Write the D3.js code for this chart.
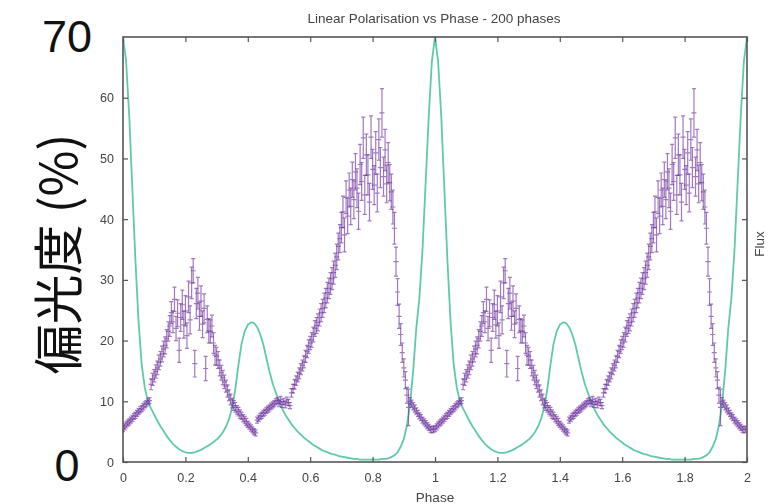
<!DOCTYPE html>
<html>
<head>
<meta charset="utf-8">
<script src="https://cdn.jsdelivr.net/npm/d3@7"></script>
<style>
  body { margin: 0; background: #fff; }
  svg { display: block; }
</style>
</head>
<body>
<svg id="chart" width="778" height="504"></svg>
<script>
// ---- data -------------------------------------------------------------
const chartTitle = "Linear Polarisation vs Phase - 200 phases";
const xAxisTitle = "Phase";
const yAxisTitle = "偏光度 (%)";
const y2AxisTitle = "Flux";

const yTicks = [0, 10, 20, 30, 40, 50, 60];
const yTickLabels = ["0", "10", "20", "30", "40", "50", "60"];
const xTicks = [0, 0.2, 0.4, 0.6, 0.8, 1, 1.2, 1.4, 1.6, 1.8, 2];
const xTickLabels = ["0", "0.2", "0.4", "0.6", "0.8", "1", "1.2", "1.4", "1.6", "1.8", "2"];
const yEndLabels = ["0", "70"];

// phase-folded cycle, shown twice (phase 0-1 and 1-2)
const cycles = [0, 1];

// linear polarisation (%), 200 phase bins per cycle
const polStep = 0.005;
const polValues = [
  5.5, 5.8, 6.1, 6.4, 6.6, 6.9, 7.2, 7.5, 7.7, 8.0, 8.3, 8.6, 8.8, 9.1, 9.4, 9.6, 9.9, 10.1,
  12.8, 13.6, 14.2, 14.9, 15.5, 16.4, 17.0, 17.8, 18.6, 19.2, 20.3, 21.5, 22.4, 24.6, 23.1, 26.8,
  22.0, 24.5, 18.4, 23.8, 25.9, 22.6, 24.9, 20.8, 27.2, 23.4, 29.5, 31.5, 16.2, 26.1, 27.8, 24.0,
  26.5, 22.7, 25.3, 15.4, 23.5, 21.6,
  21.5, 22.4, 19.6, 17.6, 17.4, 16.8, 15.5, 14.7, 13.9, 13.2, 12.5, 11.7, 11.0, 10.3, 9.7, 9.3,
  9.0, 8.6, 8.3, 7.9, 7.6, 7.2, 6.9, 6.6, 6.2, 5.9, 5.6, 5.3, 5.0, 4.8,
  6.9, 7.2, 7.5, 7.7, 8.0, 8.2, 8.5, 8.7, 8.9, 9.2, 9.4, 9.6, 9.9, 10.1, 9.6, 10.3, 9.5, 10.0,
  9.4, 10.2, 9.8, 9.3,
  11.4, 12.1, 12.8, 13.4, 14.0, 14.6, 15.3, 15.9, 16.5, 17.4, 18.2, 19.0, 19.6, 20.1, 21.0, 22.0,
  22.5, 23.0, 23.8, 24.6, 25.3, 26.2, 27.0, 27.9, 28.6, 29.4, 30.2, 31.2, 32.4, 33.8, 35.5, 36.8,
  38.6, 41.2, 37.4, 43.6, 40.5, 44.8, 42.1, 46.5, 43.2, 47.8, 45.1, 41.3, 49.0, 46.2, 53.4, 44.0,
  50.6, 47.3, 42.8, 53.5, 48.2, 45.6, 50.9, 44.3, 53.1, 48.5, 57.5, 47.0, 51.4, 45.8, 49.3, 46.0,
  44.5,
  42.0, 38.5, 33.0, 28.0, 24.0, 21.0, 18.0, 15.5, 13.5, 11.0, 9.0, 10.0, 9.6, 9.2, 8.8, 8.4,
  8.0, 7.6, 7.3, 6.9, 6.6, 6.3, 6.0, 5.7, 5.4, 5.3, 5.4
];
const polErrors = [
  0.5, 0.5, 0.5, 0.5, 0.5, 0.5, 0.5, 0.5, 0.5, 0.5, 0.5, 0.5, 0.5, 0.5, 0.5, 0.5, 0.5, 0.5,
  0.9, 1.0, 1.0, 1.1, 1.1, 1.2, 1.2, 1.3, 1.3, 1.4, 1.5, 1.6, 1.7, 1.8, 1.8, 2.0,
  2.0, 2.2, 2.0, 2.3, 2.4, 2.2, 2.5, 2.1, 2.6, 2.3, 2.6, 2.0, 2.2, 2.5, 2.6, 2.3,
  2.5, 2.2, 2.4, 2.0, 2.2, 2.0,
  1.9, 1.8, 1.7, 1.6, 1.5, 1.4, 1.3, 1.2, 1.2, 1.1, 1.0, 1.0, 0.9, 0.9, 0.8, 0.8,
  0.8, 0.7, 0.7, 0.7, 0.6, 0.6, 0.6, 0.6, 0.5, 0.5, 0.5, 0.5, 0.5, 0.5,
  0.5, 0.5, 0.5, 0.5, 0.5, 0.5, 0.5, 0.5, 0.5, 0.5, 0.5, 0.5, 0.5, 0.5, 0.5, 0.5, 0.5, 0.5,
  0.5, 0.5, 0.5, 0.5,
  0.7, 0.7, 0.8, 0.8, 0.8, 0.9, 0.9, 0.9, 1.0, 1.0, 1.0, 1.1, 1.1, 1.2, 1.2, 1.3,
  1.3, 1.4, 1.4, 1.5, 1.5, 1.6, 1.6, 1.7, 1.7, 1.8, 1.8, 1.9, 2.0, 2.1, 2.2, 2.3,
  2.5, 2.6, 2.8, 2.7, 2.9, 2.8, 3.0, 2.9, 3.1, 3.0, 3.2, 3.0, 3.3, 3.1, 3.4, 3.2,
  3.4, 3.3, 3.1, 3.5, 3.3, 3.2, 3.5, 3.1, 3.4, 3.3, 4.0, 3.2, 3.4, 3.1, 3.3, 3.0,
  2.9,
  2.8, 2.6, 2.4, 2.2, 2.0, 1.8, 1.6, 1.5, 1.4, 1.3, 3.0, 0.6, 0.6, 0.6, 0.6, 0.5,
  0.5, 0.5, 0.5, 0.5, 0.5, 0.5, 0.5, 0.5, 0.5, 0.5, 0.5
];

// model flux, drawn on the same vertical scale, 0.01 phase steps (0 .. 1)
const fluxStep = 0.01;
const fluxValues = [
  70, 66, 57, 45, 33, 23, 16, 12.2, 10.0, 8.8,
  7.8, 6.8, 5.9, 5.1, 4.3, 3.6, 3.0, 2.5, 2.1, 1.8,
  1.6, 1.5, 1.5, 1.6, 1.8, 2.0, 2.3, 2.6, 2.9, 3.3,
  3.7, 4.2, 4.9, 5.8, 7.1, 9.0, 12.0, 16.0, 19.5, 21.5,
  22.6, 23.0, 22.9, 22.2, 21.0, 19.3, 17.0, 14.8, 12.9, 11.4,
  10.0, 8.8, 7.8, 7.0, 6.2, 5.6, 5.0, 4.5, 4.0, 3.6,
  3.2, 2.8, 2.5, 2.2, 1.9, 1.7, 1.5, 1.3, 1.2, 1.0,
  0.9, 0.8, 0.7, 0.6, 0.5, 0.5, 0.4, 0.4, 0.4, 0.4,
  0.4, 0.4, 0.4, 0.5, 0.5, 0.6, 0.8, 1.1, 1.6, 2.5,
  3.8, 6.0, 9.5, 15, 22, 27, 35, 46, 57, 66,
  70
];

// ---- layout -----------------------------------------------------------
const svg = d3.select("#chart");
const x = d3.scaleLinear().domain([0, 2]).range([123, 747]);
const y = d3.scaleLinear().domain([0, 70]).range([462, 37]);

const purple = "#6e32a0";
const teal = "#5fcaa9";
const axisGrey = "#555";
const smallFont = "'Liberation Sans', Arial, sans-serif";

const defs = svg.append("defs");
defs.append("filter").attr("id", "soft")
  .attr("x", "-5%").attr("y", "-5%").attr("width", "110%").attr("height", "110%")
  .append("feGaussianBlur").attr("stdDeviation", 0.65);
defs.append("clipPath").attr("id", "plotClip")
  .append("rect")
  .attr("x", x(0)).attr("y", y(70))
  .attr("width", x(2) - x(0)).attr("height", y(0) - y(70));

// ---- series -------------------------------------------------------------
// each cycle repeats the folded curve; the shared endpoint is kept once
const fluxPts = [];
cycles.forEach((c, ci) => {
  fluxValues.forEach((v, i) => {
    if (ci > 0 && i === 0) return;
    fluxPts.push({ p: c + i * fluxStep, v });
  });
});

const polPts = [];
cycles.forEach(c => {
  polValues.forEach((v, i) => polPts.push({ p: c + i * polStep, v, e: polErrors[i] }));
});

const plot = svg.append("g").attr("filter", "url(#soft)");
const inner = plot.append("g").attr("clip-path", "url(#plotClip)");

inner.append("path")
  .datum(fluxPts)
  .attr("fill", "none")
  .attr("stroke", teal)
  .attr("stroke-width", 1.8)
  .attr("stroke-linejoin", "round")
  .attr("d", d3.line().x(d => x(d.p)).y(d => y(d.v)));

inner.append("g")
  .attr("stroke", purple)
  .attr("stroke-width", 1.2)
  .attr("stroke-opacity", 0.65)
  .attr("fill", "none")
  .selectAll("path")
  .data(polPts)
  .join("path")
  .attr("d", d => {
    const px = x(d.p), py = y(d.v), lo = y(d.v - d.e), hi = y(d.v + d.e);
    return `M${px},${lo}V${hi}M${px - 2},${lo}h4M${px - 2},${hi}h4M${px - 2.5},${py}h5M${px},${py - 2.5}v5`;
  });

// ---- axes & frame -------------------------------------------------------
const axes = svg.append("g").attr("filter", "url(#soft)");

function styleAxis(g) {
  g.select(".domain").remove();
  g.selectAll(".tick line").attr("stroke", axisGrey).attr("stroke-width", 1.2);
  g.selectAll(".tick text")
    .attr("fill", "#444")
    .style("font-family", smallFont)
    .style("font-size", "12.5px");
}

axes.append("g")
  .attr("transform", `translate(${x(0)},0)`)
  .call(d3.axisLeft(y).tickValues(yTicks).tickSize(-5).tickPadding(9)
    .tickFormat((d, i) => yTickLabels[i]))
  .call(styleAxis);

axes.append("g")
  .attr("transform", `translate(${x(2)},0)`)
  .call(d3.axisRight(y).tickValues(yTicks).tickSize(-5).tickFormat(""))
  .call(styleAxis);

axes.append("g")
  .attr("transform", `translate(0,${y(0)})`)
  .call(d3.axisBottom(x).tickValues(xTicks).tickSize(-5).tickPadding(11)
    .tickFormat((d, i) => xTickLabels[i]))
  .call(styleAxis);

axes.append("g")
  .attr("transform", `translate(0,${y(70)})`)
  .call(d3.axisTop(x).tickValues(xTicks).tickSize(-5).tickFormat(""))
  .call(styleAxis);

axes.append("rect")
  .attr("x", x(0)).attr("y", y(70))
  .attr("width", x(2) - x(0)).attr("height", y(0) - y(70))
  .attr("fill", "none")
  .attr("stroke", axisGrey)
  .attr("stroke-width", 1.6);

// small titles
axes.append("text")
  .attr("x", 434).attr("y", 23)
  .attr("text-anchor", "middle")
  .attr("fill", "#444")
  .style("font-family", smallFont)
  .style("font-size", "13.5px")
  .text(chartTitle);

axes.append("text")
  .attr("x", 435).attr("y", 502)
  .attr("text-anchor", "middle")
  .attr("fill", "#444")
  .style("font-family", smallFont)
  .style("font-size", "13.5px")
  .text(xAxisTitle);

axes.append("text")
  .attr("transform", "translate(759,244) rotate(-90)")
  .attr("text-anchor", "middle")
  .attr("dominant-baseline", "central")
  .attr("fill", "#444")
  .style("font-family", smallFont)
  .style("font-size", "13.5px")
  .text(y2AxisTitle);

// large axis annotations
const big = svg.append("g").attr("fill", "#111");
big.append("text")
  .attr("x", 67).attr("y", y(0) + 19)
  .attr("text-anchor", "middle")
  .style("font-family", smallFont)
  .style("font-size", "45px")
  .text(yEndLabels[0]);
big.append("text")
  .attr("x", 67).attr("y", y(70) + 15)
  .attr("text-anchor", "middle")
  .style("font-family", smallFont)
  .style("font-size", "45px")
  .text(yEndLabels[1]);
big.append("text")
  .attr("transform", "translate(55,254) rotate(-90)")
  .attr("text-anchor", "middle")
  .attr("dominant-baseline", "central")
  .style("font-family", "'Noto Sans CJK JP', 'Noto Sans CJK SC', sans-serif")
  .style("font-size", "50px")
  .text(yAxisTitle);
</script>
</body>
</html>
